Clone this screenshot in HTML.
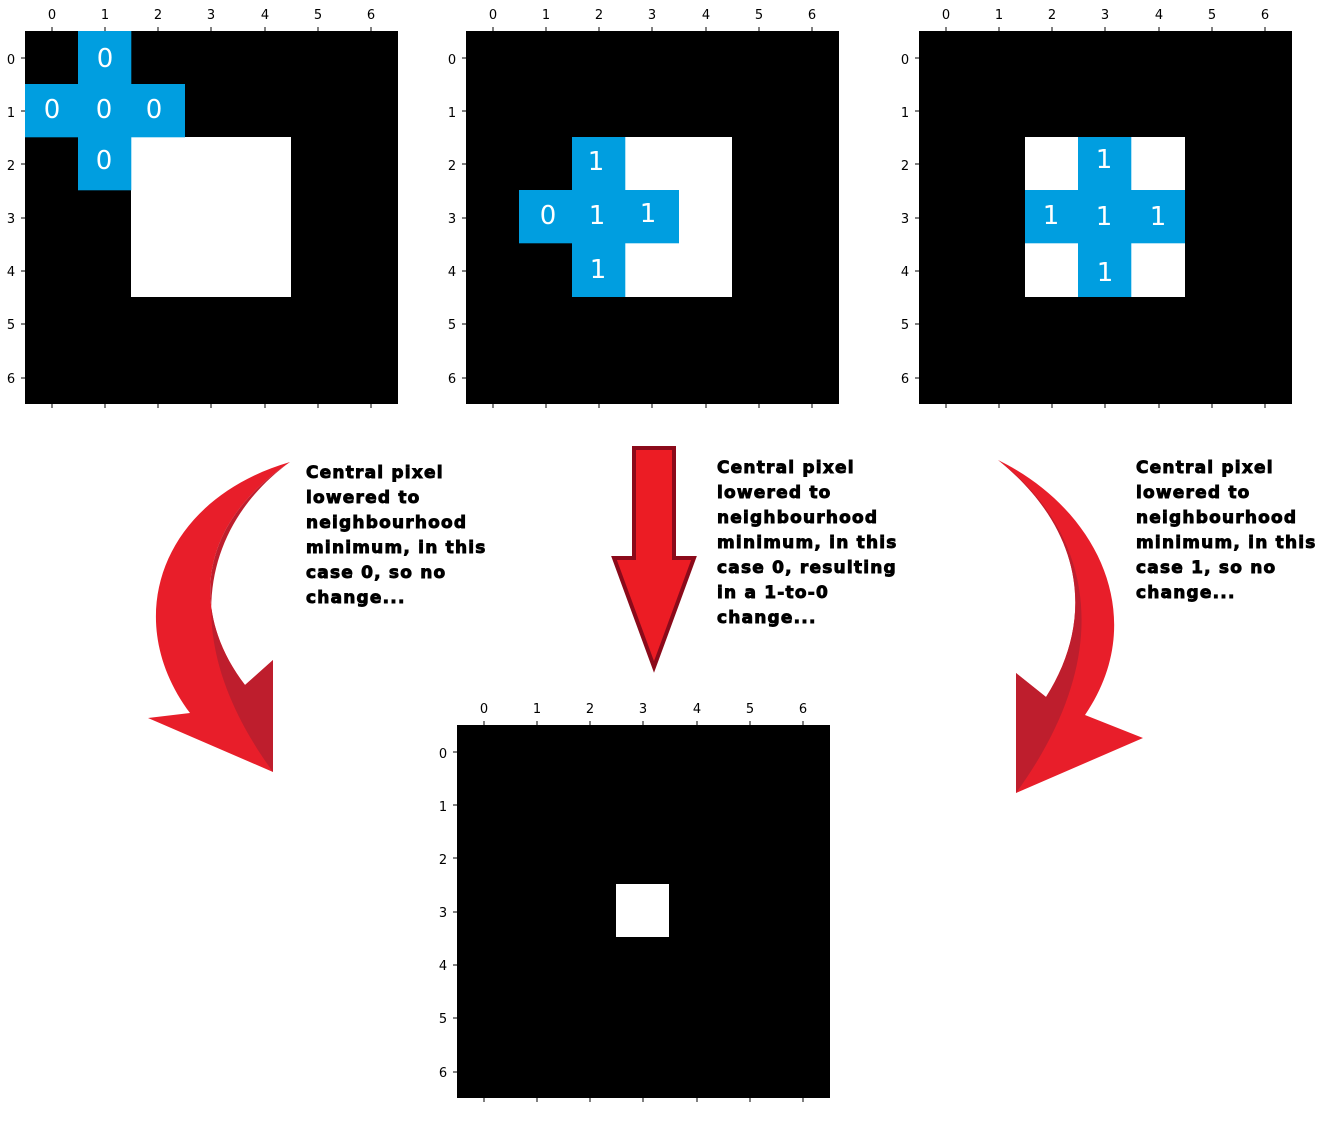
<!DOCTYPE html>
<html><head><style>body{margin:0;background:#fff}svg{display:block}</style></head><body>
<svg width="1336" height="1136" viewBox="0 0 1336 1136" xmlns="http://www.w3.org/2000/svg" font-family="DejaVu Sans, sans-serif">
<g>
<rect x="25" y="31" width="373" height="373" fill="#000"/>
<rect x="131" y="137" width="160" height="160" fill="#fff"/>
<g fill="#009ee0"><rect x="78" y="31" width="53.3" height="53.3"/><rect x="25" y="84" width="160" height="53.3"/><rect x="78" y="137" width="53.3" height="53.3"/></g>
<g fill="#fff" font-size="26" text-anchor="middle"><text x="105" y="67">0</text><text x="52" y="118">0</text><text x="104" y="118">0</text><text x="154" y="118">0</text><text x="104" y="169">0</text></g>
</g>
<g>
<rect x="466" y="31" width="373" height="373" fill="#000"/>
<rect x="572" y="137" width="160" height="160" fill="#fff"/>
<g fill="#009ee0"><rect x="572" y="137" width="53.3" height="160"/><rect x="519" y="190" width="160" height="53.3"/></g>
<g fill="#fff" font-size="26" text-anchor="middle"><text x="596" y="170">1</text><text x="548" y="224">0</text><text x="597" y="224">1</text><text x="648" y="222">1</text><text x="598" y="278">1</text></g>
</g>
<g>
<rect x="919" y="31" width="373" height="373" fill="#000"/>
<rect x="1025" y="137" width="160" height="160" fill="#fff"/>
<g fill="#009ee0"><rect x="1078" y="137" width="53.3" height="160"/><rect x="1025" y="190" width="160" height="53.3"/></g>
<g fill="#fff" font-size="26" text-anchor="middle"><text x="1104" y="168">1</text><text x="1051" y="224">1</text><text x="1104" y="225">1</text><text x="1158" y="225">1</text><text x="1105" y="281">1</text></g>
</g>
<g>
<rect x="457" y="725" width="373" height="373" fill="#000"/>
<rect x="616" y="884" width="53" height="53" fill="#fff"/>
</g>
<g font-size="13" fill="#000" text-anchor="middle" stroke-width="1">
<g id="t1">
<text x="52" y="19">0</text><text x="105" y="19">1</text><text x="158" y="19">2</text><text x="211" y="19">3</text><text x="265" y="19">4</text><text x="318" y="19">5</text><text x="371" y="19">6</text>
<text x="11" y="64">0</text><text x="11" y="117">1</text><text x="11" y="170">2</text><text x="11" y="223">3</text><text x="11" y="276">4</text><text x="11" y="329">5</text><text x="11" y="383">6</text>
<path stroke="#000" d="M52,27v4M105,27v4M158,27v4M211,27v4M265,27v4M318,27v4M371,27v4M52,404v4M105,404v4M158,404v4M211,404v4M265,404v4M318,404v4M371,404v4M21,58h4M21,111h4M21,164h4M21,218h4M21,271h4M21,324h4M21,378h4"/>
</g>
<use href="#t1" x="441"/>
<use href="#t1" x="894"/>
<use href="#t1" x="432" y="694"/>
</g>
<!-- left curved arrow -->
<path d="M290,462 C160,500 120,620 190,713 L148,718 L273,772 L273,660 L245,685 C195,620 190,530 290,462 Z" fill="#e81e2a"/>
<path d="M290,462 C210,520 170,630 273,772 L273,660 L245,685 C195,620 190,530 290,462 Z" fill="#be1e2d"/>
<!-- right curved arrow -->
<path d="M998,460 C1100,510 1150,620 1085,715 L1143,738 L1016,793 L1016,673 L1046,697 C1095,620 1085,530 998,460 Z" fill="#e81e2a"/>
<path d="M998,460 C1090,530 1120,650 1016,793 L1016,673 L1046,697 C1095,620 1085,530 998,460 Z" fill="#be1e2d"/>
<!-- down arrow -->
<path d="M634,448 H674 V558 H694 L654,667 L614,558 H634 Z" fill="#ec1c24" stroke="#8b0a1a" stroke-width="4"/>
<g font-size="17" font-weight="bold" fill="#000" stroke="#000" stroke-width="0.9" letter-spacing="1.2">
<text x="306" y="478">Central pixel</text><text x="306" y="503">lowered to</text><text x="306" y="528">neighbourhood</text><text x="306" y="553">minimum, in this</text><text x="306" y="578">case 0, so no</text><text x="306" y="603">change...</text>
<text x="717" y="473">Central pixel</text><text x="717" y="498">lowered to</text><text x="717" y="523">neighbourhood</text><text x="717" y="548">minimum, in this</text><text x="717" y="573">case 0, resulting</text><text x="717" y="598">in a 1-to-0</text><text x="717" y="623">change...</text>
<text x="1136" y="473">Central pixel</text><text x="1136" y="498">lowered to</text><text x="1136" y="523">neighbourhood</text><text x="1136" y="548">minimum, in this</text><text x="1136" y="573">case 1, so no</text><text x="1136" y="598">change...</text>
</g>
</svg>
</body></html>
